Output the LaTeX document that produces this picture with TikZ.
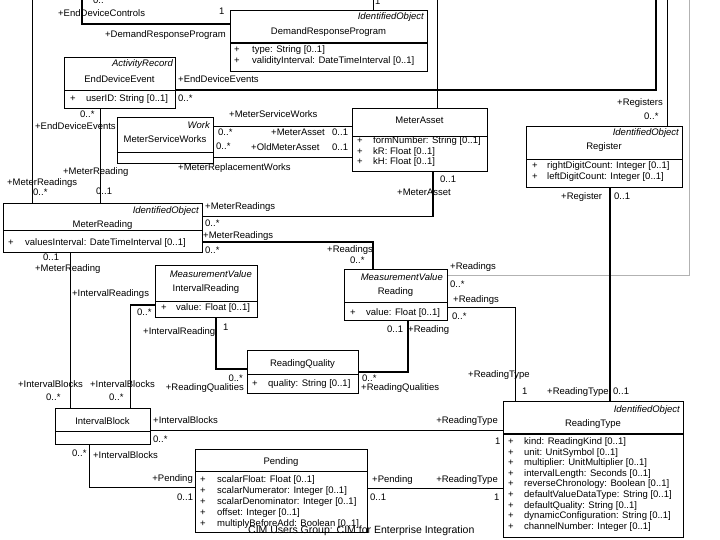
\documentclass[tikz,border=0pt]{standalone}
\usepackage{fontspec}
\setmainfont{Liberation Sans}
\begin{document}
\begin{tikzpicture}[x=1pt,y=-1pt,
  cls/.style={draw, line width=1.2pt, inner sep=0pt, anchor=north west, fill=white},
  sep/.style={line width=0.9pt},
  sepb/.style={line width=1.8pt},
  txt/.style={inner sep=0pt, anchor=base west, font=\fontsize{9.5}{11}\selectfont},
  txtc/.style={txt, anchor=base},
  txtr/.style={txt, anchor=base east},
  ster/.style={txtr, font=\fontsize{9.5}{11}\selectfont\itshape},
  foot/.style={inner sep=0pt, anchor=base west, font=\fontsize{10.5}{12}\selectfont},
  thk/.style={line width=1.6pt},
  thn/.style={line width=0.8pt},
  gry/.style={line width=0.8pt, draw=black!30}]
\fill[white] (0,0) rectangle (720,540);
\useasboundingbox (0,0) rectangle (720,540);

% ---------- class boxes ----------
\node[cls, minimum width=197pt, minimum height=61pt] (drp) at (230,10) {};
\node[cls, minimum width=111pt, minimum height=51pt] (ede) at (64,57) {};
\node[cls, minimum width=96pt, minimum height=46pt] (msw) at (117,117) {};
\node[cls, minimum width=135pt, minimum height=63pt] (ma) at (352,108) {};
\node[cls, minimum width=156pt, minimum height=61pt] (reg) at (526,126) {};
\node[cls, minimum width=199pt, minimum height=49pt] (mr) at (3,203) {};
\node[cls, minimum width=102pt, minimum height=52pt] (ir) at (155,265) {};
\node[cls, minimum width=103pt, minimum height=51pt] (rd) at (344,269) {};
\node[cls, minimum width=111pt, minimum height=43pt] (rq) at (247,350) {};
\node[cls, minimum width=180pt, minimum height=136pt] (rt) at (503,401) {};
\node[cls, minimum width=95pt, minimum height=36pt] (ib) at (55,408) {};
\node[cls, minimum width=172pt, minimum height=83pt] (pd) at (195,449) {};

% ---------- compartment separators ----------
\draw[sepb] (drp.west |- 0,43) -- (drp.east |- 0,43);
\draw[sep] (ede.west |- 0,90) -- (ede.east |- 0,90);
\draw[sep] (msw.west |- 0,152) -- (msw.east |- 0,152);
\draw[sep] (ma.west |- 0,136) -- (ma.east |- 0,136);
\draw[sep] (reg.west |- 0,159) -- (reg.east |- 0,159);
\draw[sep] (mr.west |- 0,230) -- (mr.east |- 0,230);
\draw[sep] (ir.west |- 0,301) -- (ir.east |- 0,301);
\draw[sep] (rd.west |- 0,302) -- (rd.east |- 0,302);
\draw[sep] (rq.west |- 0,374) -- (rq.east |- 0,374);
\draw[sepb] (rt.west |- 0,434) -- (rt.east |- 0,434);
\draw[sep] (ib.west |- 0,431) -- (ib.east |- 0,431);
\draw[sep] (pd.west |- 0,471) -- (pd.east |- 0,471);

% ---------- free ends ----------
\coordinate (edcTop) at (82,0);
\coordinate (drpTop) at (373,0);
\coordinate (edeTop) at (656,0);
\coordinate (maTop) at (437,0);
\coordinate (regTop) at (667,0);
\coordinate (rdTop) at (689,0);
\coordinate (mrTop) at (32,0);
\coordinate (irib) at (130,305);

% ---------- connectors ----------
\draw[thk] (edcTop) |- (drp.west |- 0,24);
\draw[thn] (drpTop) -- (drpTop |- drp.north);
\draw[thk] (ede.east |- 0,90) -| (edeTop);
\draw[thn] (maTop) -- (maTop |- ma.north);
\draw[thn] (regTop) -- (regTop |- reg.north);
\draw[gry] (rd.east |- 0,275) -| (rdTop);
\draw[thn] (mrTop) -- (mrTop |- mr.north);
\draw[thn] (100,0 |- ede.south) -- (100,0 |- mr.north);
\draw[thn] (msw.east |- 0,126) -- (ma.west |- 0,126);
\draw[thn] (msw.east |- 0,157) -- (ma.west |- 0,157);
\draw[thk] (433,0 |- ma.south) |- (mr.east |- 0,216.7);
\draw[thk] (mr.east |- 0,241.7) -| (373,0 |- rd.north);
\draw[thn] (70,0 |- mr.south) -- (70,0 |- ib.north);
\draw[thk] (ir.west |- irib) -- (irib);
\draw[thn] (irib) -- (irib |- ib.north);
\draw[thk] (216,0 |- ir.south) |- (rq.west |- 0,369);
\draw[thk] (408,0 |- rd.south) |- (rq.east |- 0,372);
\draw[thn] (rd.east |- 0,307) -| (515,0 |- rt.north);
\draw[thk] (610,0 |- reg.south) -- (610,0 |- rt.north);
\draw[thn] (ib.east |- 0,430) -- (rt.west |- 0,430);
\draw[thn] (pd.east |- 0,488) -- (rt.west |- 0,488);
\draw[thn] (89,0 |- ib.south) |- (pd.west |- 0,487);

% ---------- class texts ----------
\node[ster] (drpS) at (424,20) {IdentifiedObject};
\node[txtc] (drpN) at (328.5,35) {DemandResponseProgram};
\node[txt] (drpP1) at (234,53) {+};
\node[txt] (drpA1) at (252,53) {type: String [0..1]};
\node[txt] (drpP2) at (234,64) {+};
\node[txt] (drpA2) at (252,64) {validityInterval: DateTimeInterval [0..1]};

\node[ster] (edeS) at (173,67) {ActivityRecord};
\node[txtc] (edeN) at (119.5,83) {EndDeviceEvent};
\node[txt] (edeP1) at (70,102) {+};
\node[txt] (edeA1) at (86,102) {userID: String [0..1]};

\node[ster] (mswS) at (210,129) {Work};
\node[txtc] (mswN) at (165,143) {MeterServiceWorks};

\node[txtc] (maN) at (419.5,124) {MeterAsset};
\node[txt] (maP1) at (357,144) {+};
\node[txt] (maA1) at (373,144) {formNumber: String [0..1]};
\node[txt] (maP2) at (357,154.5) {+};
\node[txt] (maA2) at (373,154.5) {kR: Float [0..1]};
\node[txt] (maP3) at (357,165) {+};
\node[txt] (maA3) at (373,165) {kH: Float [0..1]};

\node[ster] (regS) at (679,136) {IdentifiedObject};
\node[txtc] (regN) at (604,150) {Register};
\node[txt] (regP1) at (532,169) {+};
\node[txt] (regA1) at (547,169) {rightDigitCount: Integer [0..1]};
\node[txt] (regP2) at (532,180) {+};
\node[txt] (regA2) at (547,180) {leftDigitCount: Integer [0..1]};

\node[ster] (mrS) at (199,214) {IdentifiedObject};
\node[txtc] (mrN) at (102.5,227) {MeterReading};
\node[txt] (mrP1) at (8,245) {+};
\node[txt] (mrA1) at (25,245) {valuesInterval: DateTimeInterval [0..1]};

\node[ster] (irS) at (252,277) {MeasurementValue};
\node[txtc] (irN) at (206,291) {IntervalReading};
\node[txt] (irP1) at (161,310) {+};
\node[txt] (irA1) at (176,310) {value: Float [0..1]};

\node[ster] (rdS) at (443,280) {MeasurementValue};
\node[txtc] (rdN) at (395.5,294) {Reading};
\node[txt] (rdP1) at (350,315) {+};
\node[txt] (rdA1) at (366,315) {value: Float [0..1]};

\node[txtc] (rqN) at (302.5,366) {ReadingQuality};
\node[txt] (rqP1) at (252,386) {+};
\node[txt] (rqA1) at (268,386) {quality: String [0..1]};

\node[ster] (rtS) at (680,412) {IdentifiedObject};
\node[txtc] (rtN) at (593,426) {ReadingType};
\foreach [count=\i] \a in {kind: ReadingKind [0..1], unit: UnitSymbol [0..1],
  multiplier: UnitMultiplier [0..1], intervalLength: Seconds [0..1],
  reverseChronology: Boolean [0..1], defaultValueDataType: String [0..1],
  defaultQuality: String [0..1], dynamicConfiguration: String [0..1],
  channelNumber: Integer [0..1]} {
  \node[txt] (rtP\i) at (508,{444.5+10.6*(\i-1)}) {+};
  \node[txt] (rtA\i) at (524,{444.5+10.6*(\i-1)}) {\a};
}

\node[txtc] (ibN) at (102.5,424) {IntervalBlock};

\node[txtc] (pdN) at (281,464) {Pending};
\foreach [count=\i] \a in {scalarFloat: Float [0..1], scalarNumerator: Integer [0..1],
  scalarDenominator: Integer [0..1], offset: Integer [0..1],
  multiplyBeforeAdd: Boolean [0..1]} {
  \node[txt] (pdP\i) at (200,{482+11*(\i-1)}) {+};
  \node[txt] (pdA\i) at (217,{482+11*(\i-1)}) {\a};
}

% ---------- connector labels ----------
\node[txt] (l01) at (93,4) {0..*};
\node[txt] (l02) at (58,17) {+EndDeviceControls};
\node[txt] (l03) at (219,15) {1};
\node[txt] (l04) at (105,38) {+DemandResponseProgram};
\node[txt] (l05) at (375,5) {1};
\node[txt] (l06) at (178,83) {+EndDeviceEvents};
\node[txt] (l07) at (178,102) {0..*};
\node[txt] (l08) at (80,118) {0..*};
\node[txt] (l09) at (35,130) {+EndDeviceEvents};
\node[txt] (l10) at (63,175) {+MeterReading};
\node[txt] (l11) at (96,195) {0..1};
\node[txt] (l12) at (7,186) {+MeterReadings};
\node[txt] (l13) at (33,196) {0..*};
\node[txt] (l14) at (229,118) {+MeterServiceWorks};
\node[txt] (l15) at (218,136) {0..*};
\node[txt] (l16) at (271,136) {+MeterAsset};
\node[txt] (l17) at (332,136) {0..1};
\node[txt] (l18) at (216,150) {0..*};
\node[txt] (l19) at (251,151) {+OldMeterAsset};
\node[txt] (l20) at (332,151) {0..1};
\node[txt] (l21) at (178,171) {+MeterReplacementWorks};
\node[txt] (l22) at (440,183) {0..1};
\node[txt] (l23) at (397,196) {+MeterAsset};
\node[txt] (l24) at (205,210) {+MeterReadings};
\node[txt] (l25) at (205,226) {0..*};
\node[txt] (l26) at (203,238) {+MeterReadings};
\node[txt] (l27) at (205,254) {0..*};
\node[txt] (l28) at (327,252) {+Readings};
\node[txt] (l29) at (350,263) {0..*};
\node[txt] (l30) at (617,106) {+Registers};
\node[txt] (l31) at (644,120) {0..*};
\node[txt] (l32) at (561,200) {+Register};
\node[txt] (l33) at (614,200) {0..1};
\node[txt] (l34) at (450,269) {+Readings};
\node[txt] (l35) at (450,287) {0..*};
\node[txt] (l36) at (453,302) {+Readings};
\node[txt] (l37) at (452,319) {0..*};
\node[txt] (l38) at (387,332) {0..1};
\node[txt] (l39) at (408,332) {+Reading};
\node[txt] (l40) at (468,377) {+ReadingType};
\node[txt] (l41) at (522,394) {1};
\node[txt] (l42) at (547,394) {+ReadingType};
\node[txt] (l43) at (613,394) {0..1};
\node[txt] (l44) at (362,381) {0..*};
\node[txt] (l45) at (361,390) {+ReadingQualities};
\node[txtr] (l46) at (243,381) {0..*};
\node[txtr] (l47) at (244,390) {+ReadingQualities};
\node[txt] (l48) at (143,334) {+IntervalReading};
\node[txt] (l49) at (223,330) {1};
\node[txt] (l50) at (137,315) {0..*};
\node[txt] (l51) at (72,296) {+IntervalReadings};
\node[txt] (l52) at (43,260) {0..1};
\node[txt] (l53) at (35,271) {+MeterReading};
\node[txt] (l54) at (18,387) {+IntervalBlocks};
\node[txt] (l55) at (90,387) {+IntervalBlocks};
\node[txt] (l56) at (46,400) {0..*};
\node[txt] (l57) at (109,400) {0..*};
\node[txt] (l58) at (153,423) {+IntervalBlocks};
\node[txt] (l59) at (153,442) {0..*};
\node[txtr] (l60) at (498,423) {+ReadingType};
\node[txt] (l61) at (495,444) {1};
\node[txt] (l62) at (72,456) {0..*};
\node[txt] (l63) at (93,458) {+IntervalBlocks};
\node[txtr] (l64) at (193,481) {+Pending};
\node[txt] (l65) at (177,500) {0..1};
\node[txt] (l66) at (372,482) {+Pending};
\node[txt] (l67) at (370,500) {0..1};
\node[txtr] (l68) at (498,482) {+ReadingType};
\node[txt] (l69) at (494,500) {1};

\node[foot] (foot) at (248,533.5) {CIM Users Group: CIM for Enterprise Integration};
\end{tikzpicture}
\end{document}
